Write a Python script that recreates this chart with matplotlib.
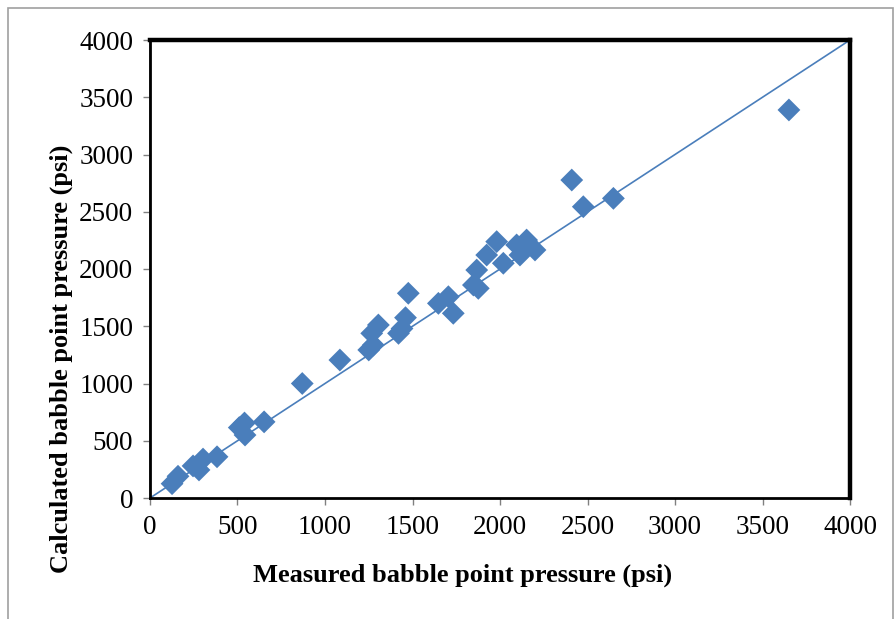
import numpy as np
import matplotlib.pyplot as plt
from matplotlib.patches import Rectangle

# measured vs calculated bubble point pressure (psi)
measured = [126, 160, 246, 280, 303, 383, 510, 540, 543, 652,
            870, 1085, 1250, 1276, 1267, 1305, 1420, 1440, 1460, 1476,
            1648, 1705, 1733, 1848, 1876, 1867, 1924, 1981, 2019, 2095,
            2114, 2152, 2200, 2410, 2476, 2648, 3651]
calculated = [125, 190, 280, 245, 340, 360, 615, 655, 550, 665,
              1000, 1205, 1293, 1336, 1438, 1511, 1438, 1480, 1575, 1788,
              1700, 1758, 1613, 1860, 1831, 1991, 2122, 2239, 2050, 2210,
              2122, 2253, 2166, 2777, 2544, 2617, 3389]
ticks = [0, 500, 1000, 1500, 2000, 2500, 3000, 3500, 4000]
line_x = [0, 4000]

blue = '#4a7ebb'
plt.rcParams['font.family'] = ['Liberation Serif', 'DejaVu Serif']

fig = plt.figure(figsize=(8.95, 6.19), dpi=100)
ax = fig.add_axes([150/895, 1-498/619, 700/895, 458/619])

ax.plot(line_x, line_x, color=blue, lw=1.2, zorder=2)
ax.scatter(measured, calculated, marker='D', s=135, color=blue, edgecolors='none', zorder=3)

ax.set_xlim(0, 4000)
ax.set_ylim(0, 4000)
ax.set_xticks(ticks)
ax.set_yticks(ticks)
ax.tick_params(direction='out', length=5, width=1, color='#808080', labelsize=19.5, pad=7)

for s in ['top', 'right']:
    ax.spines[s].set_linewidth(3.2)
    ax.spines[s].set_color('black')
for s in ['left', 'bottom']:
    ax.spines[s].set_linewidth(2)
    ax.spines[s].set_color('black')
# light grey edge just outside left axis line
ax.plot([0, 0], [0, 1], transform=ax.transAxes, color='#909090', lw=1.2,
        clip_on=False, zorder=1)

ax.set_xlabel('Measured babble point pressure (psi)', fontsize=19, fontweight='bold')
ax.set_ylabel('Calculated babble point pressure (psi)', fontsize=19, fontweight='bold')
ax.xaxis.set_label_coords((463-150)/700, (498-564)/458)
ax.yaxis.set_label_coords((73-150)/700, (498-359)/458)

fig.patches.append(Rectangle((8/895, -0.05), 885/895, 1.05-8/619, transform=fig.transFigure,
                             fill=False, edgecolor='#a0a0a0', lw=1.2))

fig.savefig('out.png', dpi=100)
